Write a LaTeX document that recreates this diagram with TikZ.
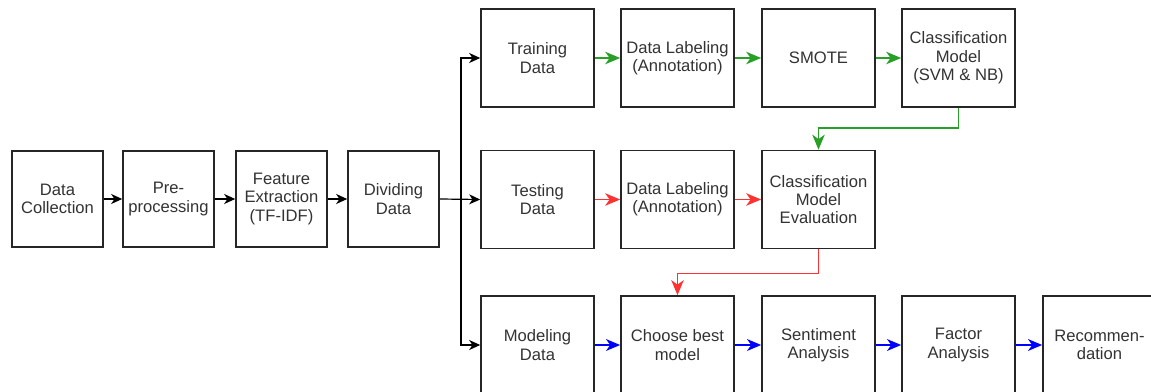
\documentclass[tikz,border=0pt]{standalone}
\usepackage{fontspec}
\setmainfont{Liberation Sans}
\usetikzlibrary{arrows.meta,calc}

\definecolor{flowgreen}{RGB}{40,160,40}
\definecolor{flowred}{RGB}{255,50,50}
\definecolor{flowblue}{RGB}{0,0,255}

\tikzset{
  stage/.style={draw=black!85,line width=.8pt,fill=white,align=center,text=black!80,
    font=\fontsize{8.3}{9.2}\selectfont,inner sep=0pt},
  prep/.style={stage,minimum width=45.5pt,minimum height=48pt},
  task/.style={stage,minimum width=56.5pt,minimum height=49pt},
  flow/.style={-{Stealth[length=5.5pt,width=5pt,inset=1.6pt]},line width=.6pt},
  gflow/.style={flow,flowgreen,line width=.9pt,-{Stealth[length=7.5pt,width=6.2pt,inset=2.2pt]}},
  rflow/.style={flow,flowred,line width=.8pt,-{Stealth[length=7.5pt,width=6.2pt,inset=2.2pt]}},
  bflow/.style={flow,flowblue,line width=1.3pt,-{Stealth[length=7pt,width=5.8pt,inset=2pt]}}
}

\begin{document}
\begin{tikzpicture}[x=.5pt,y=-.5pt]
\clip (0,0) rectangle (1151,391);
\node[prep] (coll) at (57.5,199) {Data\\Collection};
\node[prep] (pre) at (168.5,199) {Pre-\\processing};
\node[prep] (feat) at (281.5,199) {Feature\\Extraction\\(TF-IDF)};
\node[prep] (div) at (393.5,199) {Dividing\\Data};
\node[task] (train) at (537.5,58) {Training\\Data};
\node[task] (lab1) at (677.5,58) {Data Labeling\\(Annotation)};
\node[task] (smote) at (818.5,58) {SMOTE};
\node[task] (clsm) at (958.5,58) {Classification\\Model\\(SVM \& NB)};
\node[task] (test) at (537.5,199.5) {Testing\\Data};
\node[task] (lab2) at (677.5,199.5) {Data Labeling\\(Annotation)};
\node[task] (eval) at (818.5,199.5) {Classification\\Model\\Evaluation};
\node[task] (modl) at (537.5,345) {Modeling\\Data};
\node[task] (best) at (677.5,345) {Choose best\\model};
\node[task] (sent) at (818.5,345) {Sentiment\\Analysis};
\node[task] (fact) at (958.5,345) {Factor\\Analysis};
\node[task] (reco) at (1099.5,345) {Recommen-\\dation};
\coordinate (splt) at (461,199);
\draw[flow] (coll) -- (pre); \draw[flow] (pre) -- (feat); \draw[flow] (feat) -- (div);
\draw[flow] (div.east) -- (test.west); \draw[flow] (splt) |- (train.west); \draw[flow] (splt) |- (modl.west);
\draw[gflow] (train) -- (lab1); \draw[gflow] (lab1) -- (smote); \draw[gflow] (smote) -- (clsm);
\draw[gflow] (clsm.south) -- ++(0,20) -| (eval.north);
\draw[rflow] (test) -- (lab2); \draw[rflow] (lab2) -- (eval);
\draw[rflow] (eval.south) -- ++(0,24) -| (best.north);
\draw[bflow] (modl) -- (best); \draw[bflow] (best) -- (sent); \draw[bflow] (sent) -- (fact); \draw[bflow] (fact) -- (reco);
\end{tikzpicture}
\end{document}
